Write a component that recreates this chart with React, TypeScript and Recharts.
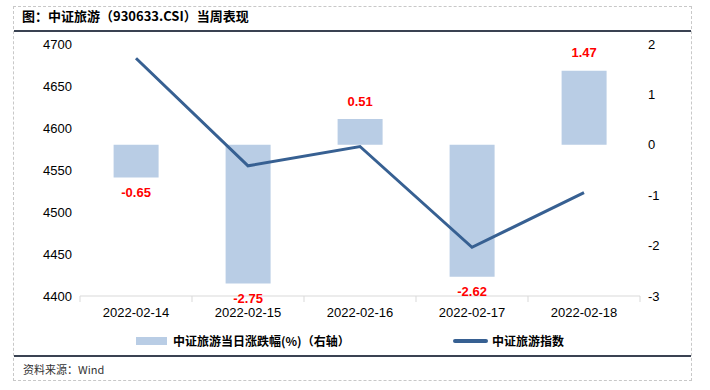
import { Bar, ComposedChart, LabelList, Line, XAxis, YAxis } from "recharts";

const dates = ["2022-02-14", "2022-02-15", "2022-02-16", "2022-02-17", "2022-02-18"];
const dailyChange = [-0.65, -2.75, 0.51, -2.62, 1.47];
const indexClose = [4683, 4555, 4578, 4458, 4523];
const leftTicks = [4400, 4450, 4500, 4550, 4600, 4650, 4700];
const rightTicks = [-3, -2, -1, 0, 1, 2];

const data = dates.map((d, i) => ({ date: d, change: dailyChange[i], close: indexClose[i] }));

const numFont = "Arial, 'Liberation Sans', sans-serif";
const cjkFont = "'Noto Sans CJK SC', 'Liberation Sans', sans-serif";

function DateTick(props: any) {
  const { x, y, payload, index, visibleTicksCount } = props;
  const half = payload?.offset ?? 56;
  return (
    <g>
      <line x1={x - half} x2={x - half} y1={y} y2={y + 6} stroke="#D9D9D9" />
      {index === visibleTicksCount - 1 && (
        <line x1={x + half} x2={x + half} y1={y} y2={y + 6} stroke="#D9D9D9" />
      )}
      <text x={x} y={y + 12} dy="0.71em" textAnchor="middle" fontSize={13} fontFamily={numFont} fill="#000">
        {payload.value}
      </text>
    </g>
  );
}

function ChangeLabel(props: any) {
  const { x, y, width, height, value } = props;
  const top = Math.min(y, y + height);
  const bottom = Math.max(y, y + height);
  const cy = value >= 0 ? top - 18 : bottom + 15;
  return (
    <text
      x={x + width / 2}
      y={cy}
      textAnchor="middle"
      dominantBaseline="central"
      fontSize={13}
      fontWeight="bold"
      fontFamily={numFont}
      fill="#FF0000"
    >
      {value.toFixed(2)}
    </text>
  );
}

export default function App() {
  return (
    <div style={{ position: "absolute", left: 0, top: 0, width: 710, height: 390, background: "#fff" }}>
      <div
        style={{
          position: "absolute",
          left: 13,
          top: 6,
          width: 677,
          height: 373,
          border: "1px dashed #C8C8C8"
        }}
      />
      <div
        style={{
          position: "absolute",
          left: 22,
          top: 7,
          fontSize: 13,
          fontWeight: "bold",
          fontFamily: cjkFont,
          lineHeight: "18px",
          color: "#000"
        }}
      >
        图：中证旅游（930633.CSI）当周表现
      </div>
      <div style={{ position: "absolute", left: 14, top: 30, width: 677, height: 2, background: "#3A4252" }} />
      <div style={{ position: "absolute", left: 14, top: 355, width: 677, height: 2, background: "#3A4252" }} />
      <div
        style={{
          position: "absolute",
          left: 23,
          top: 361,
          fontSize: 11,
          fontFamily: cjkFont,
          lineHeight: "16px",
          color: "#333"
        }}
      >
        资料来源：Wind
      </div>

      <div style={{ position: "absolute", left: 0, top: 0 }}>
        <ComposedChart
          width={710}
          height={390}
          data={data}
          margin={{ top: 44, right: 0, bottom: 64, left: 0 }}
          barCategoryGap="30%"
        >
          <XAxis
            dataKey="date"
            height={30}
            axisLine={{ stroke: "#D9D9D9" }}
            tickLine={false}
            tickSize={0}
            tickMargin={0}
            tick={<DateTick />}
            interval={0}
          />
          <YAxis
            yAxisId="left"
            width={80}
            domain={[4400, 4700]}
            ticks={leftTicks}
            axisLine={false}
            tickLine={false}
            tick={{ fontSize: 13, fontFamily: numFont, fill: "#000" }}
          />
          <YAxis
            yAxisId="right"
            orientation="right"
            width={70}
            domain={[-3, 2]}
            ticks={rightTicks}
            axisLine={false}
            tickLine={false}
            tick={{ fontSize: 13, fontFamily: numFont, fill: "#000" }}
          />
          <Bar yAxisId="right" dataKey="change" fill="#B9CDE5" isAnimationActive={false}>
            <LabelList dataKey="change" content={<ChangeLabel />} />
          </Bar>
          <Line
            yAxisId="left"
            dataKey="close"
            type="linear"
            stroke="#376092"
            strokeWidth={3}
            dot={false}
            activeDot={false}
            isAnimationActive={false}
          />
        </ComposedChart>
      </div>

      <div
        style={{
          position: "absolute",
          left: 136,
          top: 332,
          display: "flex",
          alignItems: "center",
          fontSize: 12,
          fontWeight: "bold",
          fontFamily: cjkFont,
          lineHeight: "18px",
          color: "#000"
        }}
      >
        <span style={{ display: "inline-block", width: 31, height: 8, background: "#B9CDE5", marginRight: 6 }} />
        中证旅游当日涨跌幅(%)（右轴）
      </div>
      <div
        style={{
          position: "absolute",
          left: 453,
          top: 332,
          display: "flex",
          alignItems: "center",
          fontSize: 12,
          fontWeight: "bold",
          fontFamily: cjkFont,
          lineHeight: "18px",
          color: "#000"
        }}
      >
        <span style={{ display: "inline-block", width: 35, height: 4, background: "#376092", borderRadius: 2, marginRight: 4 }} />
        中证旅游指数
      </div>
    </div>
  );
}
